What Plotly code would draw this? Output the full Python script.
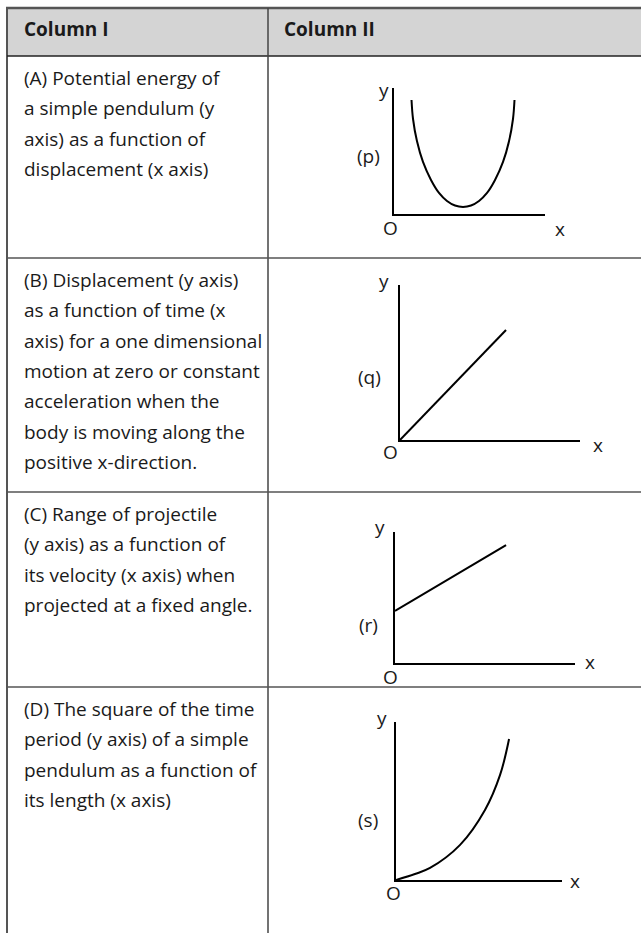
import plotly.graph_objects as go

W, H = 641, 933

# Table text
header = ["Column I", "Column II"]
rows_text = [
    ["(A) Potential energy of", "a simple pendulum (y", "axis) as a function of",
     "displacement (x axis)"],
    ["(B) Displacement (y axis)", "as a function of time (x", "axis) for a one dimensional",
     "motion at zero or constant", "acceleration when the", "body is moving along the",
     "positive x-direction."],
    ["(C) Range of projectile", "(y axis) as a function of", "its velocity (x axis) when",
     "projected at a fixed angle."],
    ["(D) The square of the time", "period (y axis) of a simple", "pendulum as a function of",
     "its length (x axis)"],
]
graph_tags = ["(p)", "(q)", "(r)", "(s)"]

# Curves of the small sketches (axis units 0..10)
p_x = [1.16, 1.26, 1.52, 1.92, 2.45, 2.98, 3.51, 4.04, 4.57, 5.10, 5.63, 6.16, 6.69, 7.22, 7.62, 7.88, 7.98]
p_y = [9.05, 7.54, 5.79, 4.13, 2.70, 1.67, 1.03, 0.67, 0.56, 0.67, 1.03, 1.67, 2.70, 4.13, 5.79, 7.54, 9.05]
q_x = [0, 5.89]
q_y = [0, 7.1]
r_x = [0, 6.17]
r_y = [3.97, 9.0]
s_x = [0, 1.14, 2.05, 3.86, 5.36, 6.27, 6.81]
s_y = [0, 0.38, 0.76, 2.22, 4.43, 6.65, 8.92]
curves = [(p_x, p_y), (q_x, q_y), (r_x, r_y), (s_x, s_y)]

# Layout geometry in pixels
row_tops = [56, 258, 492, 687]
line_gap = 30.3
# origin x, origin y, x-axis end, y-axis top
frames = [(394, 214, 545, 88), (400, 440, 580, 285),
          (395, 663, 575, 532), (396, 880, 562, 722)]
# centres of y, tag, O, x labels
label_pos = [
    [(384, 90), (368, 156), (390, 228), (560, 229)],
    [(384, 281), (369, 377), (390, 452), (598, 445)],
    [(380, 527), (368, 625), (390, 677), (590, 662)],
    [(382, 718), (368, 820), (393, 893), (575, 881)],
]


def px(x):
    return x / W


def py(y):
    return 1 - y / H


font = dict(family="Open Sans, Noto Sans, sans-serif", size=19, color="#1a1a1a")
fig = go.Figure()
annotations = []
shapes = []

# Header background and table rules
shapes.append(dict(type="rect", xref="paper", yref="paper", x0=px(7), x1=1, y0=py(56), y1=py(8),
                   fillcolor="#d4d4d4", line_width=0, layer="below"))
rules = [
    (6, 8, 641, 8, "#555", 2.5),
    (7, 7, 7, 933, "#555", 2),
    (7, 56, 641, 56, "#222", 1.5),
    (268, 8, 268, 933, "#444", 1.5),
]
for y in row_tops[1:]:
    rules.append((7, y, 641, y, "#555", 1.5))
for x0, y0, x1, y1, c, w in rules:
    shapes.append(dict(type="line", xref="paper", yref="paper", x0=px(x0), y0=py(y0),
                       x1=px(x1), y1=py(y1), line=dict(color=c, width=w)))

for txt, x in zip(header, [22, 282]):
    annotations.append(dict(text="<b>" + txt + "</b>", x=px(x), y=py(29), xref="paper", yref="paper",
                            xanchor="left", yanchor="middle", showarrow=False, font=font))

for i, lines in enumerate(rows_text):
    for j, line in enumerate(lines):
        annotations.append(dict(text=line, x=px(22), y=py(row_tops[i] + 22 + j * line_gap),
                                xref="paper", yref="paper", xanchor="left", yanchor="middle",
                                showarrow=False, font=font))

# Small sketches, one pair of axes each
for i, (cx, cy) in enumerate(curves):
    n = i + 1
    ox, oy, xe, yt = frames[i]
    fig.add_trace(go.Scatter(x=cx, y=cy, mode="lines", line=dict(color="black", width=2, shape="spline"),
                             xaxis=f"x{n}", yaxis=f"y{n}", hoverinfo="skip", showlegend=False))
    axis = dict(range=[0, 10], showline=True, linecolor="black", linewidth=2.2, showgrid=False,
                zeroline=False, showticklabels=False, ticks="", fixedrange=True)
    fig.layout[f"xaxis{n}"] = dict(axis, domain=[px(ox), px(xe)], anchor=f"y{n}")
    fig.layout[f"yaxis{n}"] = dict(axis, domain=[py(oy), py(yt)], anchor=f"x{n}")
    for txt, (lx, ly) in zip(["y", graph_tags[i], "O", "x"], label_pos[i]):
        annotations.append(dict(text=txt, x=px(lx), y=py(ly), xref="paper", yref="paper",
                                xanchor="center", yanchor="middle", showarrow=False, font=font))

fig.update_layout(width=W, height=H, margin=dict(l=0, r=0, t=0, b=0),
                  paper_bgcolor="white", plot_bgcolor="white",
                  shapes=shapes, annotations=annotations, showlegend=False)

# the page body has an 8px margin by default; drop it so the figure sits at the corner
fig.write_html("out.html", config={"displayModeBar": False},
               post_script="document.body.style.margin='0';")
